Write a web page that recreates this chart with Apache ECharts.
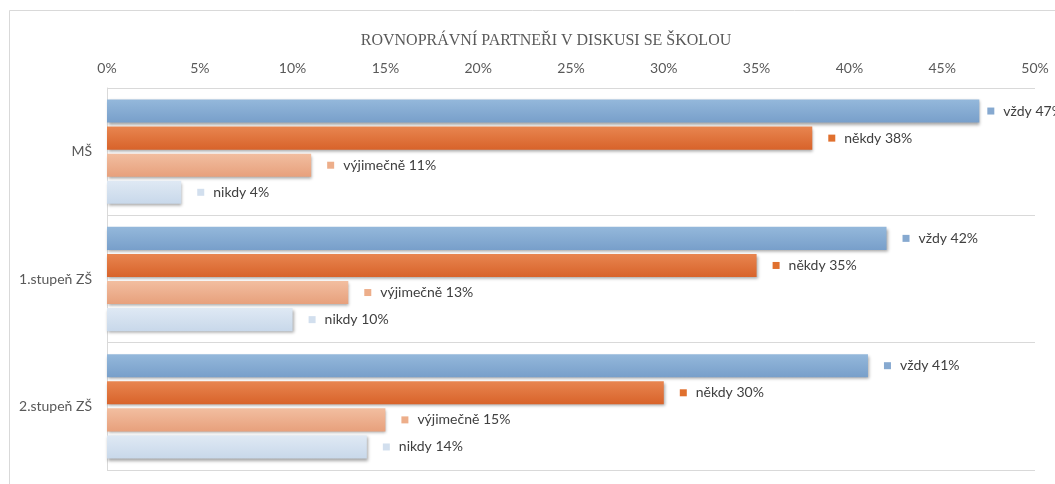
<!DOCTYPE html>
<html>
<head>
<meta charset="utf-8">
<script src="https://cdn.jsdelivr.net/npm/echarts@6/dist/echarts.min.js"></script>
<style>
  html, body { margin: 0; padding: 0; background: #fff; }
  #chart { width: 1055px; height: 484px; }
</style>
</head>
<body>
<div id="chart"></div>
<script>
// data
var categories = ['MŠ', '1.stupeň ZŠ', '2.stupeň ZŠ'];
var vzdy = [47, 42, 41];
var nekdy = [38, 35, 30];
var vyjimecne = [11, 13, 15];
var nikdy = [4, 10, 14];
var xTicks = [0, 5, 10, 15, 20, 25, 30, 35, 40, 45, 50];

var chart = echarts.init(document.getElementById('chart'));

function grad(top, bottom) {
    return new echarts.graphic.LinearGradient(0, 0, 0, 1, [
        {offset: 0, color: top},
        {offset: 1, color: bottom}
    ]);
}

// one bar series with the little coloured square in front of the label
function makeSeries(name, data, top, bottom, mark) {
    return {
        name: name,
        type: 'bar',
        // labels near the right edge get pulled closer to the bar, like in excel
        data: data.map(function (v) {
            return v > 45 ? {value: v, label: {distance: 8}} : v;
        }),
        barGap: '17%',
        barCategoryGap: '18%',
        itemStyle: {
            color: grad(top, bottom),
            shadowColor: 'rgba(0,0,0,0.35)',
            shadowBlur: 3,
            shadowOffsetX: 1,
            shadowOffsetY: 2
        },
        label: {
            show: true,
            position: 'right',
            distance: 16,
            formatter: function (p) {
                return '{sq|}{gap|}' + name + ' ' + p.value + '%';
            },
            color: '#404040',
            fontFamily: 'Lato',
            fontSize: 14,
            rich: {
                sq: {width: 7, height: 7, backgroundColor: mark},
                gap: {width: 9}
            }
        }
    };
}

chart.setOption({
    backgroundColor: '#fff',
    animation: false,
    title: {
        text: 'ROVNOPRÁVNÍ PARTNEŘI V DISKUSI SE ŠKOLOU',
        left: 541,
        top: 28,
        textAlign: 'center',
        textStyle: {
            fontFamily: 'Liberation Serif',
            fontSize: 16,
            fontWeight: 'normal',
            color: '#595959'
        }
    },
    graphic: [{
        type: 'rect',
        shape: {x: 9.5, y: 10.5, width: 1100, height: 500},
        style: {fill: 'none', stroke: '#d9d9d9', lineWidth: 1},
        silent: true
    }],
    grid: {left: 107, right: 20, top: 88, bottom: 14},
    xAxis: {
        type: 'value',
        position: 'top',
        min: xTicks[0],
        max: xTicks[xTicks.length - 1],
        interval: 5,
        axisLine: {show: false},
        axisTick: {show: false},
        splitLine: {show: false},
        axisLabel: {
            formatter: '{value}%',
            color: '#595959',
            fontFamily: 'Lato',
            fontSize: 14,
            margin: 13
        }
    },
    yAxis: {
        type: 'category',
        data: categories,
        inverse: true,
        axisLine: {show: true, lineStyle: {color: '#d9d9d9', width: 1}},
        axisTick: {show: false},
        splitLine: {show: true, lineStyle: {color: '#d9d9d9', width: 1}},
        axisLabel: {
            color: '#595959',
            fontFamily: 'Lato',
            fontSize: 14,
            margin: 15
        }
    },
    series: [
        makeSeries('vždy', vzdy, '#94B8DB', '#789FCA', '#86A9D0'),
        makeSeries('někdy', nekdy, '#E88550', '#D8632A', '#E0702E'),
        makeSeries('výjimečně', vyjimecne, '#F2BEA0', '#E7A07C', '#EDAE8A'),
        makeSeries('nikdy', nikdy, '#DFE9F4', '#C8D8EA', '#D2DFEE')
    ]
});
</script>
</body>
</html>
